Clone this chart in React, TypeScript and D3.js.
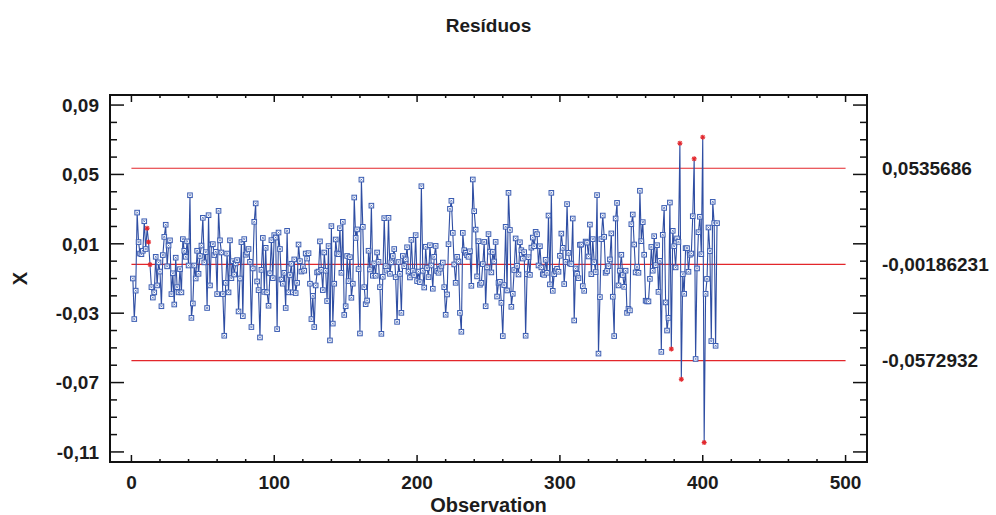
import React from "react";
import * as d3 from "d3";

const residuals: number[] = [
  -0.0100, -0.0334, -0.0170, 0.0280, 0.0110, 0.0044, 0.0040, 0.0060, 0.0230, 0.0070,
  0.0190, 0.0110, -0.0020, -0.0150, -0.0210, -0.0180, 0.0025, -0.0140, -0.0007, -0.0060,
  -0.0260, 0.0035, 0.0140, 0.0210, -0.0030, 0.0090, 0.0120, -0.0190, -0.0070, -0.0250,
  0.0020, -0.0150, -0.0180, -0.0046, -0.0180, 0.0127, 0.0060, 0.0025, 0.0114, -0.0025,
  0.0380, -0.0327, -0.0244, -0.0025, -0.0100, 0.0060, -0.0073, 0.0030, 0.0090, 0.0250,
  -0.0007, 0.0052, -0.0270, 0.0265, -0.0140, 0.0096, 0.0098, 0.0035, 0.0054, -0.0190,
  0.0290, 0.0120, 0.0050,
  -0.0190, -0.0430, -0.0125, 0.0044, -0.0180, 0.0120, -0.0098, 0.0000, -0.0077, -0.0013,
  0.0006, -0.0290, -0.0100, 0.0110, -0.0317, 0.0127, 0.0037, 0.0050, 0.0070, -0.0004,
  -0.0380, -0.0042, 0.0227, 0.0333, -0.0117, -0.0167, -0.0440, -0.0050, 0.0134, -0.0177,
  0.0077, -0.0180, -0.0257, -0.0070, 0.0121, -0.0098, 0.0150, 0.0136, -0.0392, 0.0165,
  0.0070, -0.0106, -0.0130, -0.0067, -0.0270, 0.0175, -0.0180, -0.0080, -0.0015, -0.0180,
  0.0010, -0.0184, -0.0125, 0.0096, 0.0000, -0.0060, -0.0034, -0.0055, 0.0044, 0.0015,
  0.0046, -0.0130, -0.0334, -0.0200, -0.0380,
  -0.0140, -0.0065, -0.0060, 0.0114, -0.0050, -0.0167, 0.0050, -0.0055, -0.0230, 0.0087,
  -0.0457, 0.0202, -0.0360, -0.0130, 0.0125, 0.0044, 0.0040, 0.0190, -0.0067, 0.0227,
  -0.0310, -0.0260, 0.0030, -0.0115, 0.0023, -0.0211, -0.0130, 0.0367, 0.0134, 0.0183,
  -0.0046, -0.0417, 0.0470, 0.0198, -0.0150, -0.0248, -0.0227, 0.0060, -0.0048, 0.0320,
  -0.0084, -0.0013, -0.0084, 0.0050, -0.0004, -0.0150, -0.0419, -0.0090, 0.0248, -0.0029,
  -0.0055, 0.0250, -0.0073, -0.0007, 0.0030, 0.0070, -0.0092, -0.0350, -0.0005, -0.0073,
  -0.0298, 0.0030, -0.0029, 0.0010, 0.0080, -0.0060, -0.0094, 0.0123, -0.0057, -0.0080,
  0.0150, -0.0115, -0.0060, -0.0121, 0.0432, -0.0055, -0.0152, 0.0083, -0.0040, -0.0092,
  0.0092, -0.0025, -0.0159, 0.0025, 0.0088, -0.0057, -0.0067, -0.0044, -0.0027, -0.0008,
  -0.0150, -0.0309, -0.0192, 0.0098, 0.0302, 0.0348, 0.0163, -0.0019, -0.0125, 0.0025,
  -0.0002, -0.0298, -0.0407, 0.0163, 0.0063, 0.0048, 0.0034, 0.0025, 0.0057, -0.0142,
  0.0471, 0.0288, 0.0182, -0.0088, 0.0115, -0.0136, -0.0125, -0.0017, 0.0111, -0.0260,
  -0.0036, 0.0156, 0.0055, -0.0065, 0.0053, -0.0002, 0.0111, -0.0204, -0.0125, -0.0119,
  -0.0240, -0.0432, -0.0138, 0.0198, -0.0169, 0.0394, 0.0180,
  -0.0263, -0.0188, -0.0051, 0.0131, -0.0027, -0.0077, 0.0109, 0.0063, 0.0015, 0.0052,
  -0.0430, -0.0075, 0.0023, -0.0079, 0.0078, 0.0136, 0.0086, 0.0169, 0.0155, -0.0025,
  0.0086, -0.0036, -0.0075, -0.0079, 0.0008, -0.0067, 0.0263, -0.0134, 0.0394, -0.0171,
  -0.0075, -0.0056, -0.0044, -0.0061, 0.0031, 0.0159, 0.0077, -0.0132, -0.0004, 0.0329,
  0.0048, -0.0013, -0.0017, 0.0246, -0.0342, -0.0042, -0.0073, -0.0098, 0.0094, 0.0096,
  -0.0144, -0.0171, 0.0113, 0.0107, 0.0027, 0.0211, -0.0075, 0.0127, -0.0006, -0.0063,
  0.0381, -0.0533, -0.0207, 0.0127, 0.0263,
  0.0140, -0.0067, -0.0057, -0.0029, 0.0010, 0.0160, -0.0205, -0.0432, 0.0246, 0.0336,
  -0.0140, -0.0055, 0.0037, -0.0080, -0.0148, -0.0055, -0.0298, -0.0275, -0.0284, 0.0213,
  0.0269, 0.0096, -0.0065, -0.0033, -0.0067, 0.0406, 0.0115, 0.0225, 0.0037, -0.0228,
  -0.0232, -0.0232, -0.0102, 0.0082, -0.0055, 0.0144, -0.0023, 0.0092, -0.0177, 0.0002,
  -0.0523, 0.0152, 0.0307, -0.0238, -0.0400, -0.0327, 0.0338, -0.0507, 0.0175, 0.0086,
  -0.0036, 0.0131, 0.0111, 0.0680, -0.0681, -0.0075, -0.0188, 0.0075, 0.0075, -0.0061,
  0.0037, 0.0044, 0.0259, 0.0590, -0.0564, -0.0042, 0.0167, 0.0256, 0.0040, 0.0715,
  -0.1046, -0.0188, -0.0102, 0.0194, 0.0058, -0.0461, 0.0342, 0.0219, -0.0488, 0.0219,
];

// observations flagged in red
const outlierObs = [11, 12, 13, 378, 384, 385, 394, 400, 401];

// control lines (UCL, center, LCL)
const controlValues = [0.0535686, -0.00186231, -0.0572932];
const controlLabels = ["0,0535686", "-0,00186231", "-0,0572932"];

const xMajorTicks = [0, 100, 200, 300, 400, 500];
const xTickLabels = ["0", "100", "200", "300", "400", "500"];
const yMajorTicks = [0.09, 0.05, 0.01, -0.03, -0.07, -0.11];
const yTickLabels = ["0,09", "0,05", "0,01", "-0,03", "-0,07", "-0,11"];

const W = 996;
const H = 515;
const left = 110;
const right = 867;
const top = 95;
const bottom = 462;
const FONT = "'Liberation Sans', Arial, Helvetica, sans-serif";
const TEXT = "#1c1c1c";
const BLUE = "#2f4ea3";
const RED = "#e3262b";

export default function App() {
  const x = d3.scaleLinear().domain([-15, 515]).range([left, right]);
  const y = d3.scaleLinear().domain([-0.1158, 0.0958]).range([bottom, top]);

  const xMinor = d3.range(0, 501, 20);
  const yMinor = d3.range(-11, 10).map((v) => v / 100);

  const line = d3
    .line<number>()
    .x((_, i) => x(i + 1))
    .y((d) => y(d));

  const isMajorY = (v: number) =>
    yMajorTicks.some((m) => Math.abs(m - v) < 1e-9);
  const isMajorX = (v: number) => v % 100 === 0;

  return (
    <svg
      width={W}
      height={H}
      style={{ position: "absolute", left: 0, top: 0, background: "#fff" }}
      fontFamily={FONT}
    >
      <text
        x={(left + right) / 2}
        y={32}
        textAnchor="middle"
        fontSize={19}
        fontWeight="bold"
        fill={TEXT}
      >
        Resíduos
      </text>

      {/* control lines */}
      {controlValues.map((v, i) => (
        <line
          key={"cl" + i}
          x1={x(0)}
          x2={x(500)}
          y1={y(v)}
          y2={y(v)}
          stroke={RED}
          strokeWidth={1.2}
        />
      ))}

      {/* series */}
      <path d={line(residuals) || ""} fill="none" stroke={BLUE} strokeWidth={1.1} />
      {residuals.map((v, i) => {
        const obs = i + 1;
        const cx = x(obs);
        const cy = y(v);
        if (outlierObs.includes(obs)) {
          return (
            <g key={"m" + i} stroke={RED} strokeWidth={1.2}>
              <line x1={cx - 2.5} x2={cx + 2.5} y1={cy} y2={cy} />
              <line x1={cx} x2={cx} y1={cy - 2.5} y2={cy + 2.5} />
              <line x1={cx - 1.8} x2={cx + 1.8} y1={cy - 1.8} y2={cy + 1.8} />
              <line x1={cx - 1.8} x2={cx + 1.8} y1={cy + 1.8} y2={cy - 1.8} />
            </g>
          );
        }
        return (
          <g key={"m" + i} stroke="#3a5cb2">
            <rect
              x={cx - 2.3}
              y={cy - 2.3}
              width={4.6}
              height={4.6}
              fill="#fff"
              strokeWidth={1}
            />
            <line x1={cx - 1.1} x2={cx + 1.1} y1={cy - 1.1} y2={cy + 1.1} strokeWidth={0.7} />
            <line x1={cx - 1.1} x2={cx + 1.1} y1={cy + 1.1} y2={cy - 1.1} strokeWidth={0.7} />
          </g>
        );
      })}

      {/* axes box */}
      <rect
        x={left}
        y={top}
        width={right - left}
        height={bottom - top}
        fill="none"
        stroke="#111"
        strokeWidth={2}
      />

      {/* x ticks, bottom and top */}
      {xMinor.map((v) => {
        const len = isMajorX(v) ? 7 : 3;
        return (
          <g key={"xt" + v} stroke="#111" strokeWidth={1.5}>
            <line x1={x(v)} x2={x(v)} y1={bottom} y2={bottom - len} />
            <line x1={x(v)} x2={x(v)} y1={top} y2={top + len} />
          </g>
        );
      })}
      {xMajorTicks.map((v, i) => (
        <text
          key={"xl" + v}
          x={x(v)}
          y={489}
          textAnchor="middle"
          fontSize={19}
          fontWeight="bold"
          fill={TEXT}
        >
          {xTickLabels[i]}
        </text>
      ))}

      {/* y ticks, left and right */}
      {yMinor.map((v) => {
        const len = isMajorY(v) ? 14 : 7;
        return (
          <g key={"yt" + v} stroke="#111" strokeWidth={1.5}>
            <line x1={left} x2={left + len} y1={y(v)} y2={y(v)} />
            <line x1={right} x2={right - len} y1={y(v)} y2={y(v)} />
          </g>
        );
      })}
      {yMajorTicks.map((v, i) => (
        <text
          key={"yl" + v}
          x={99}
          y={y(v)}
          dy="0.36em"
          textAnchor="end"
          fontSize={19}
          fontWeight="bold"
          fill={TEXT}
        >
          {yTickLabels[i]}
        </text>
      ))}

      {/* control line labels */}
      {controlValues.map((v, i) => (
        <text
          key={"cll" + i}
          x={882}
          y={y(v)}
          dy="0.36em"
          fontSize={19}
          fontWeight="bold"
          fill={TEXT}
        >
          {controlLabels[i]}
        </text>
      ))}

      <text
        x={(left + right) / 2}
        y={512}
        textAnchor="middle"
        fontSize={20}
        fontWeight="bold"
        fill={TEXT}
      >
        Observation
      </text>
      <text
        transform={`translate(27,${(top + bottom) / 2}) rotate(-90)`}
        textAnchor="middle"
        fontSize={20}
        fontWeight="bold"
        fill={TEXT}
      >
        X
      </text>
    </svg>
  );
}
